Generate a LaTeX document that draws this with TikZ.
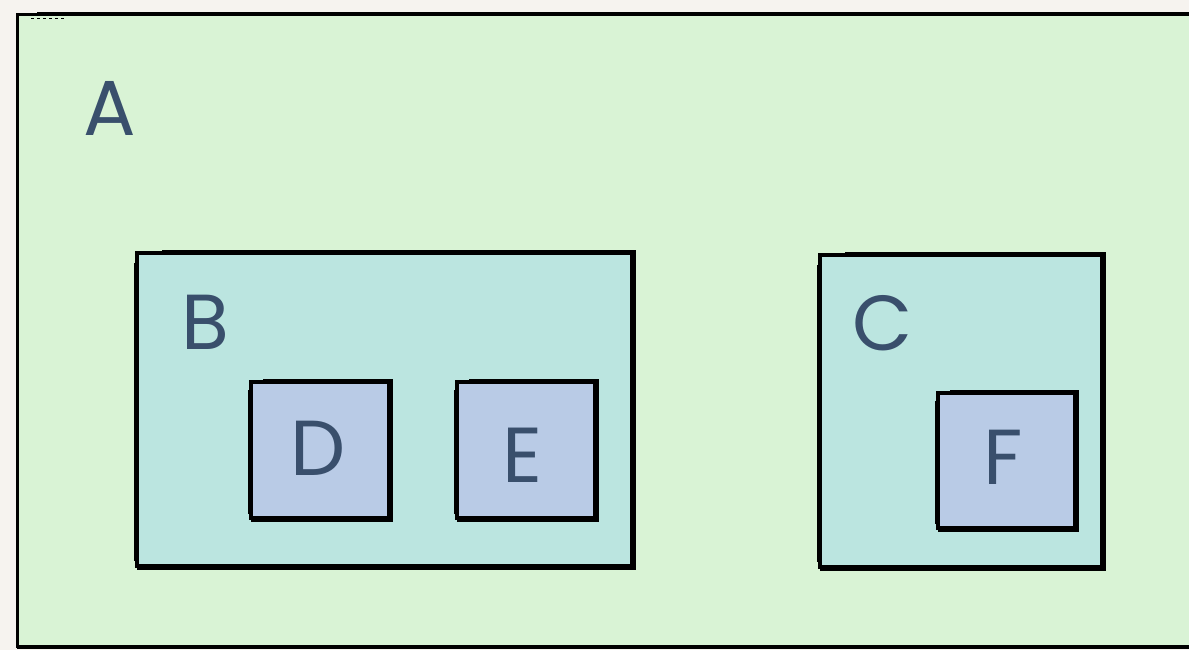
\documentclass[tikz,border=0pt]{standalone}
\usepackage{fontspec}
\setmainfont{Poppins}
\definecolor{bgc}{HTML}{F6F3EF}
\definecolor{afill}{HTML}{D9F3D5}
\definecolor{bfill}{HTML}{BBE5E0}
\definecolor{dfill}{HTML}{B9CBE6}
\definecolor{txt}{HTML}{394F6C}
\begin{document}
\begin{tikzpicture}[x=1pt,y=-1pt,
  box/.style={rectangle,draw=black,line width=4.5pt,inner sep=0pt,outer sep=0pt},
  boxa/.style={box,line width=3pt,fill=afill},
  boxb/.style={box,fill=bfill},
  boxd/.style={box,fill=dfill},
  lbl/.style={text=txt,font=\fontsize{78}{78}\selectfont,inner sep=0pt,anchor=center},
  heavy/.style={line width=3pt,black,line join=miter},
  sketch/.style={line width=1pt,black}
]
\useasboundingbox[fill=bgc] (0,0) rectangle (1189,650);
% A
\node[boxa,minimum width=1190pt,minimum height=631pt] (A) at (612,330.5) {};
\draw[heavy] ([xshift=20pt,yshift=1.5pt]A.north west) -- ([yshift=1.5pt]A.north east);
\draw[heavy] ([yshift=-1pt]A.south west) -- ([yshift=-1pt]A.south east);
\draw[sketch,dashed] ([xshift=14pt,yshift=-4pt]A.north west) -- ([xshift=48pt,yshift=-4pt]A.north west);
% B
\node[boxb,minimum width=495pt,minimum height=313pt] (B) at (384.5,409.5) {};
\draw[heavy] ([xshift=25pt,yshift=2pt]B.north west) -- ([xshift=2.5pt,yshift=2pt]B.north east) -- ([xshift=2.5pt,yshift=-2.5pt]B.south east) -- ([yshift=-2.5pt]B.south west);
\draw[sketch] ([xshift=-3pt,yshift=-10pt]B.north west) -- ([xshift=-3pt,yshift=5pt]B.south west);
% C
\node[boxb,minimum width=282pt,minimum height=312pt] (C) at (961,411) {};
\draw[heavy] ([xshift=25pt,yshift=2pt]C.north west) -- ([xshift=2.5pt,yshift=2pt]C.north east) -- ([xshift=2.5pt,yshift=-2.5pt]C.south east) -- ([yshift=-2.5pt]C.south west);
\draw[sketch] ([xshift=-3pt,yshift=-10pt]C.north west) -- ([xshift=-3pt,yshift=5pt]C.south west);
% D, E, F
\node[boxd,minimum width=138pt,minimum height=136pt] (D) at (320,450) {};
\node[boxd,minimum width=138pt,minimum height=136pt] (E) at (526,450) {};
\node[boxd,minimum width=137pt,minimum height=135pt] (F) at (1006.5,460.5) {};
\foreach \n in {D,E,F}{
  \draw[heavy] ([xshift=12pt,yshift=2pt]\n.north west) -- ([xshift=2.5pt,yshift=2pt]\n.north east) -- ([xshift=2.5pt,yshift=-2.5pt]\n.south east) -- ([yshift=-2.5pt]\n.south west);
  \draw[sketch] ([xshift=-3pt,yshift=-8pt]\n.north west) -- ([xshift=-3pt,yshift=4pt]\n.south west);
}
% labels
\node[lbl] (la) at (110,108) {A};
\node[lbl] (lb) at (205,322) {B};
\node[lbl] (lc) at (883,323) {C};
\node[lbl] (ld) at (318,448) {D};
\node[lbl] (le) at (523,455) {E};
\node[lbl] (lf) at (1003,457) {F};
\end{tikzpicture}
\end{document}
